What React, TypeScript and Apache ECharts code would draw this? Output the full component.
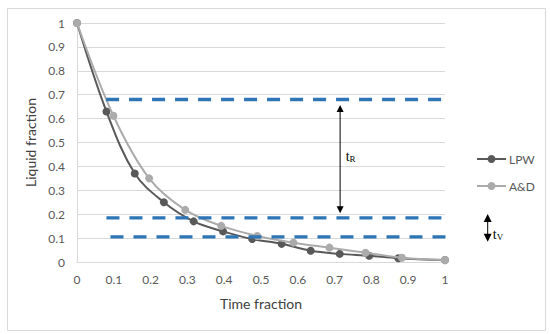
import React, { useEffect, useRef } from "react";
import * as echarts from "echarts";

const xTicks = [0, 1];
const yTicks = [0, 1];
const tickStep = 0.1;

const lpwX = [0, 0.08, 0.157, 0.236, 0.317, 0.397, 0.476, 0.556, 0.635, 0.714, 0.794, 0.873, 1];
const lpwY = [1, 0.63, 0.37, 0.25, 0.17, 0.128, 0.096, 0.076, 0.047, 0.034, 0.026, 0.016, 0.008];

const adX = [0, 0.099, 0.196, 0.294, 0.392, 0.49, 0.588, 0.686, 0.784, 0.883, 1];
const adY = [1, 0.612, 0.35, 0.218, 0.151, 0.109, 0.081, 0.06, 0.039, 0.018, 0.008];

const refLevels = [0.68, 0.185, 0.105];
const refStarts = [0.079, 0.08, 0.091];
const refEnd = 1.076;

// arrow tips (data coordinates)
const tRArrow = { x: 0.715, top: 0.657, bottom: 0.204 };
const tVArrow = { x: 1.116, top: 0.201, bottom: 0.085 };

const tRLabel = { x: 0.73, y: 0.443, sub: "R" };
const tVLabel = { x: 1.13, y: 0.117, sub: "V" };

export default function App() {
  const ref = useRef<HTMLDivElement>(null);
  useEffect(() => {
    document.body.style.margin = "0";
    if (!ref.current) return;
    const chart = echarts.init(ref.current, null, { renderer: "svg" });
    const font = "Lato, 'Open Sans', sans-serif";
    const dashSeries = refLevels.map((lv, i) => ({
      type: "line",
      name: "ref" + i,
      data: [
        [refStarts[i], lv],
        [refEnd, lv],
      ],
      symbol: "none",
      clip: false,
      silent: true,
      z: 5,
      lineStyle: { color: "#2E75B6", width: 3.3, type: [13, 10] },
    }));
    chart.setOption({
      animation: false,
      textStyle: { fontFamily: font },
      grid: { left: 77, right: 105, top: 23, bottom: 72 },
      legend: {
        orient: "vertical",
        left: 471,
        top: 148,
        itemWidth: 29,
        itemHeight: 10,
        itemGap: 15,
        data: ["LPW", "A&D"],
        textStyle: { color: "#595959", fontSize: 12, fontFamily: font, padding: [0, 0, 0, -2] },
      },
      xAxis: {
        type: "value",
        min: xTicks[0],
        max: xTicks[1],
        interval: tickStep,
        name: "Time fraction",
        nameLocation: "middle",
        nameGap: 34,
        nameTextStyle: { fontSize: 14, color: "#404040", fontFamily: font },
        axisLine: { lineStyle: { color: "#d9d9d9" } },
        axisTick: { show: false },
        splitLine: { show: false },
        axisLabel: {
          color: "#595959",
          fontSize: 12,
          margin: 11,
          formatter: (v: number) => String(parseFloat(v.toFixed(1))),
        },
      },
      yAxis: {
        type: "value",
        min: yTicks[0],
        max: yTicks[1],
        interval: tickStep,
        name: "Liquid fraction",
        nameLocation: "middle",
        nameGap: 36,
        nameRotate: 90,
        nameTextStyle: { fontSize: 14, color: "#404040", fontFamily: font },
        axisLine: { show: true, lineStyle: { color: "#d9d9d9" } },
        axisTick: { show: false },
        splitLine: { lineStyle: { color: "#d9d9d9" } },
        axisLabel: {
          color: "#595959",
          fontSize: 12,
          margin: 12,
          formatter: (v: number) => String(parseFloat(v.toFixed(1))),
        },
      },
      series: [
        ...dashSeries,
        {
          type: "line",
          name: "LPW",
          data: lpwX.map((x, i) => [x, lpwY[i]]),
          smooth: 0.35,
          symbol: "circle",
          symbolSize: 8,
          z: 3,
          lineStyle: { color: "#595959", width: 2 },
          itemStyle: { color: "#595959" },
        },
        {
          type: "line",
          name: "A&D",
          data: adX.map((x, i) => [x, adY[i]]),
          smooth: 0.35,
          symbol: "circle",
          symbolSize: 8,
          z: 4,
          lineStyle: { color: "#ababab", width: 2 },
          itemStyle: { color: "#ababab" },
        },
      ],
    });

    const px = (x: number, y: number) => chart.convertToPixel({ gridIndex: 0 }, [x, y]) as number[];
    const arrowEls = (a: { x: number; top: number; bottom: number }, hw: number, hh: number) => {
      const t = px(a.x, a.top);
      const b = px(a.x, a.bottom);
      return [
        {
          type: "line",
          shape: { x1: t[0], y1: t[1] + hh - 1, x2: b[0], y2: b[1] - hh + 1 },
          style: { stroke: "#000", lineWidth: 1 },
          z: 10,
          silent: true,
        },
        {
          type: "polygon",
          shape: { points: [[t[0], t[1]], [t[0] - hw / 2, t[1] + hh], [t[0] + hw / 2, t[1] + hh]] },
          style: { fill: "#000" },
          z: 10,
          silent: true,
        },
        {
          type: "polygon",
          shape: { points: [[b[0], b[1]], [b[0] - hw / 2, b[1] - hh], [b[0] + hw / 2, b[1] - hh]] },
          style: { fill: "#000" },
          z: 10,
          silent: true,
        },
      ];
    };
    const labelEl = (l: { x: number; y: number; sub: string }) => {
      const p = px(l.x, l.y);
      return {
        type: "text",
        x: p[0],
        y: p[1],
        z: 10,
        silent: true,
        style: {
          text: "{t|t}{s|" + l.sub + "}",
          verticalAlign: "middle",
          align: "left",
          rich: {
            t: { fontFamily: "'Liberation Serif', serif", fontSize: 14, fill: "#000", verticalAlign: "bottom", lineHeight: 14 },
            s: { fontFamily: "'Liberation Serif', serif", fontSize: 9, fill: "#000", verticalAlign: "bottom", lineHeight: 14 },
          },
        },
      };
    };
    chart.setOption({
      graphic: [
        {
          type: "rect",
          left: 5,
          top: 6,
          shape: { width: 538, height: 322 },
          style: { fill: "none", stroke: "#d9d9d9", lineWidth: 1 },
          silent: true,
        },
        ...arrowEls(tRArrow, 7, 7),
        ...arrowEls(tVArrow, 8, 8),
        labelEl(tRLabel),
        labelEl(tVLabel),
      ],
    });
    return () => chart.dispose();
  }, []);
  return <div ref={ref} style={{ width: 550, height: 334 }} />;
}
